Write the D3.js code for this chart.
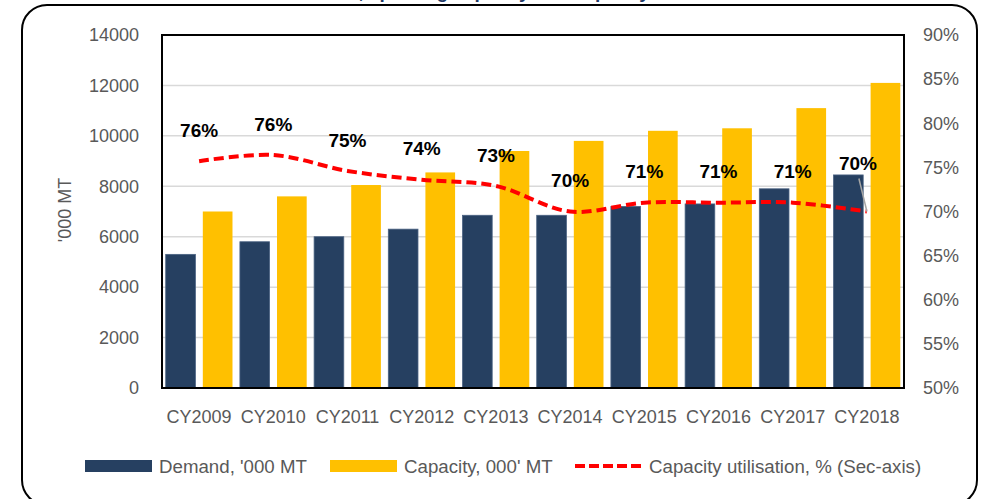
<!DOCTYPE html>
<html>
<head>
<meta charset="utf-8">
<script src="https://cdn.jsdelivr.net/npm/d3@7"></script>
<style>
  body { margin: 0; background: #fff; }
  svg { display: block; font-family: "Liberation Sans", Arial, sans-serif; }
</style>
</head>
<body>
<div id="chart"></div>
<script>
const years = ["CY2009", "CY2010", "CY2011", "CY2012", "CY2013", "CY2014", "CY2015", "CY2016", "CY2017", "CY2018"];
const demand = [5300, 5800, 6000, 6300, 6850, 6850, 7200, 7300, 7900, 8450];
const capacity = [7000, 7600, 8050, 8550, 9400, 9800, 10200, 10300, 11100, 12100];
const utilisation = [0.757, 0.764, 0.746, 0.736, 0.729, 0.700, 0.710, 0.710, 0.710, 0.700];
const leftTicks = [0, 2000, 4000, 6000, 8000, 10000, 12000, 14000];
const rightTicks = [0.50, 0.55, 0.60, 0.65, 0.70, 0.75, 0.80, 0.85, 0.90];
const seriesNames = ["Demand, '000 MT", "Capacity, 000' MT", "Capacity utilisation, % (Sec-axis)"];

const outerWidth = 984, outerHeight = 499;
const margin = {top: 35, right: 80, bottom: 111, left: 162};
const width = outerWidth - margin.left - margin.right;
const height = outerHeight - margin.top - margin.bottom;
const navy = "#264061", gold = "#FFC000", grey = "#595959";

const root = d3.select("#chart").append("svg")
    .attr("width", outerWidth)
    .attr("height", outerHeight);

// outer rounded frame + title (mostly above the page, like the source)
root.append("text")
    .attr("x", 492)
    .attr("y", -2)
    .attr("text-anchor", "middle")
    .attr("font-size", 19)
    .attr("font-weight", "bold")
    .attr("fill", "#1F3864")
    .text("Yarn demand, spinning capacity and capacity utilisation");

root.append("rect")
    .attr("x", 22).attr("y", 5)
    .attr("width", 955).attr("height", 500)
    .attr("rx", 25)
    .attr("fill", "none")
    .attr("stroke", "#000")
    .attr("stroke-width", 2);

const svg = root.append("g")
    .attr("transform", "translate(" + margin.left + "," + margin.top + ")");

const xScale = d3.scaleBand().domain(years).range([0, width]);
const xSub = d3.scaleBand().domain(["demand", "capacity"])
    .range([0, xScale.bandwidth()])
    .paddingInner(0.2)
    .paddingOuter(0.1);
const yScale = d3.scaleLinear().domain([0, 14000]).range([height, 0]);
const y2Scale = d3.scaleLinear().domain([0.5, 0.9]).range([height, 0]);

// gridlines
svg.append("g")
    .selectAll("line")
    .data(leftTicks)
    .join("line")
    .attr("x1", 0).attr("x2", width)
    .attr("y1", d => yScale(d)).attr("y2", d => yScale(d))
    .attr("stroke", "#D9D9D9")
    .attr("stroke-width", 1.5);

// bars
const rows = years.map((y, i) => ({year: y, demand: demand[i], capacity: capacity[i], util: utilisation[i]}));
const groups = svg.append("g").selectAll("g")
    .data(rows)
    .join("g")
    .attr("transform", d => `translate(${xScale(d.year)},0)`);

groups.append("rect")
    .attr("x", xSub("demand"))
    .attr("width", xSub.bandwidth())
    .attr("y", d => yScale(d.demand))
    .attr("height", d => height - yScale(d.demand))
    .attr("fill", navy)
    .attr("stroke", "#4a6282")
    .attr("stroke-width", 0.8);

groups.append("rect")
    .attr("x", xSub("capacity"))
    .attr("width", xSub.bandwidth())
    .attr("y", d => yScale(d.capacity))
    .attr("height", d => height - yScale(d.capacity))
    .attr("fill", gold);

// utilisation line
const cx = d => xScale(d.year) + xScale.bandwidth() / 2;
const line = d3.line()
    .x(cx)
    .y(d => y2Scale(d.util))
    .curve(d3.curveCatmullRom);

svg.append("path")
    .datum(rows)
    .attr("d", line)
    .attr("fill", "none")
    .attr("stroke", "#FF0000")
    .attr("stroke-width", 4)
    .attr("stroke-dasharray", "10,5");

// data labels (last one is pulled up with a leader line)
const fmt = d3.format(".0%");
const last = rows.length - 1;
svg.append("line")
    .attr("x1", cx(rows[last]) - 8)
    .attr("y1", y2Scale(rows[last].util) - 33)
    .attr("x2", cx(rows[last]))
    .attr("y2", y2Scale(rows[last].util))
    .attr("stroke", "#A6A6A6")
    .attr("stroke-width", 1.5);

svg.append("g").selectAll("text")
    .data(rows)
    .join("text")
    .attr("x", (d, i) => cx(d) + (i === last ? -9 : 0))
    .attr("y", (d, i) => y2Scale(d.util) - (i === last ? 48 : 31))
    .attr("dy", "0.35em")
    .attr("text-anchor", "middle")
    .attr("font-size", 19)
    .attr("font-weight", "bold")
    .attr("fill", "#000")
    .text(d => fmt(d.util));

// axes
const xAxis = d3.axisBottom(xScale).tickSize(0).tickPadding(22);
const yAxis = d3.axisLeft(yScale).tickValues(leftTicks).tickSize(0).tickPadding(23).tickFormat(d3.format("d"));
const y2Axis = d3.axisRight(y2Scale).tickValues(rightTicks).tickSize(0).tickPadding(19).tickFormat(d3.format(".0%"));

svg.append("g").attr("class", "axis x-axis")
    .attr("transform", `translate(0,${height})`)
    .call(xAxis);
svg.append("g").attr("class", "axis y-axis").call(yAxis);
svg.append("g").attr("class", "axis y2-axis")
    .attr("transform", `translate(${width},0)`)
    .call(y2Axis);

svg.selectAll(".axis .domain").remove();
svg.selectAll(".axis text")
    .attr("font-size", 18)
    .attr("font-family", "Liberation Sans, Arial, sans-serif")
    .attr("fill", grey);

// plot area border
svg.append("rect")
    .attr("width", width).attr("height", height)
    .attr("fill", "none")
    .attr("stroke", "#000")
    .attr("stroke-width", 2);

svg.append("text")
    .attr("transform", `translate(${65 - margin.left},${210 - margin.top}) rotate(-90)`)
    .attr("text-anchor", "middle")
    .attr("dy", "0.35em")
    .attr("font-size", 18)
    .attr("fill", grey)
    .text("'000 MT");

// legend
const legend = root.append("g").attr("transform", "translate(0,466)");
const legendItems = [
    {x: 85, type: "rect", color: navy},
    {x: 330, type: "rect", color: gold},
    {x: 575, type: "line", color: "#FF0000"}
];
legendItems.forEach((it, i) => {
    if (it.type === "rect") {
        legend.append("rect")
            .attr("x", it.x).attr("y", -6)
            .attr("width", 67).attr("height", 12)
            .attr("fill", it.color);
    } else {
        legend.append("line")
            .attr("x1", it.x).attr("x2", it.x + 67)
            .attr("y1", 0).attr("y2", 0)
            .attr("stroke", it.color)
            .attr("stroke-width", 4)
            .attr("stroke-dasharray", "10,4");
    }
    legend.append("text")
        .attr("x", it.x + 74)
        .attr("dy", "0.35em")
        .attr("font-size", 18.7)
        .attr("fill", grey)
        .text(seriesNames[i]);
});
</script>
</body>
</html>
